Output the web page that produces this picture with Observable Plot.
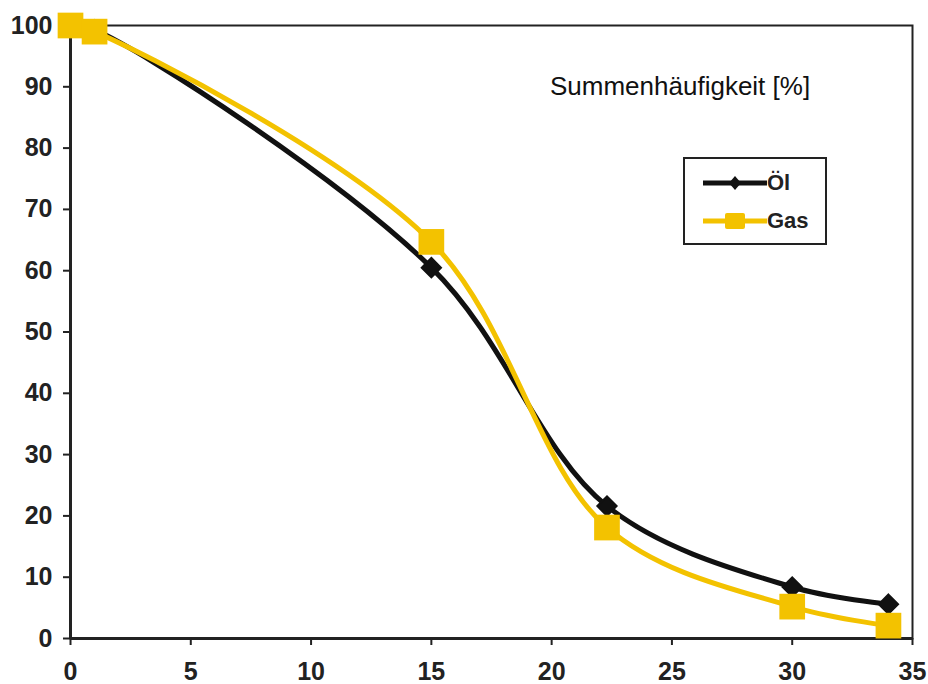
<!DOCTYPE html>
<html><head><meta charset="utf-8">
<script src="https://cdn.jsdelivr.net/npm/d3@7"></script>
<script src="https://cdn.jsdelivr.net/npm/@observablehq/plot@0.6"></script>
<style>
body{margin:0;background:#fff;}
#wrap{position:relative;width:928px;height:684px;font-family:"Liberation Sans",Arial,sans-serif;}
#title{position:absolute;left:550px;top:71px;font-size:26px;color:#111;white-space:nowrap;}
#legend{position:absolute;left:683px;top:157px;width:140px;height:84px;border:2px solid #222;background:#fff;}
#legend .row{position:absolute;left:16px;display:flex;align-items:center;font-weight:bold;font-size:22px;color:#222;}
</style>
</head><body>
<div id="wrap"></div>
<script>
const xs = [0, 1, 15, 22.3, 30, 34];
const oel = [100, 99.3, 60.5, 21.6, 8.4, 5.6];
const gas = [100, 99.0, 64.7, 18.1, 5.2, 2.1];
const seriesNames = ["Öl", "Gas"];
const xTicks = [0, 5, 10, 15, 20, 25, 30, 35];
const yTicks = [0, 10, 20, 30, 40, 50, 60, 70, 80, 90, 100];
const titleText = "Summenhäufigkeit [%]";

const oelData = xs.map((x, i) => ({x, y: oel[i]}));
const gasData = xs.map((x, i) => ({x, y: gas[i]}));
const BLACK = "#111", YELLOW = "#F3C200";

const chart = Plot.plot({
  width: 928, height: 684,
  marginLeft: 70, marginRight: 16, marginTop: 25, marginBottom: 46,
  style: {fontFamily: "Liberation Sans, Arial, sans-serif", fontWeight: "bold", fontSize: "25px", color: "#222", background: "#fff", overflow: "visible"},
  x: {domain: [0, 35], label: null},
  y: {domain: [0, 100], label: null},
  marks: [
    Plot.frame({stroke: "#222", strokeWidth: 2}),
    Plot.ruleY([0], {stroke: "#222", strokeWidth: 3}),
    Plot.ruleX([0], {stroke: "#222", strokeWidth: 3}),
    Plot.axisX({ticks: xTicks, tickSize: 7, strokeWidth: 2, tickPadding: 17, fontSize: 25, fontWeight: "bold", label: null}),
    Plot.axisY({ticks: yTicks, tickSize: 7, strokeWidth: 2, tickPadding: 11, fontSize: 25, fontWeight: "bold", label: null}),
    Plot.line(oelData, {x: "x", y: "y", stroke: BLACK, strokeWidth: 5, curve: "catmull-rom"}),
    Plot.dot(oelData, {x: "x", y: "y", symbol: "diamond2", r: 9, fill: BLACK, stroke: BLACK}),
    Plot.line(gasData, {x: "x", y: "y", stroke: YELLOW, strokeWidth: 5, curve: "catmull-rom"}),
    Plot.dot(gasData, {x: "x", y: "y", symbol: "square", r: 14.5, fill: YELLOW, stroke: "none"})
  ]
});
const wrap = document.getElementById("wrap");
wrap.appendChild(chart);

const t = document.createElement("div");
t.id = "title"; t.textContent = titleText; wrap.appendChild(t);

const lg = document.createElement("div");
lg.id = "legend";
lg.innerHTML = `
<div class="row" style="top:11px"><svg width="66" height="20"><line x1="2" y1="10" x2="66" y2="10" stroke="${BLACK}" stroke-width="5"/><path d="M34,3 L40,10 L34,17 L28,10 Z" fill="${BLACK}"/></svg><span>${seriesNames[0]}</span></div>
<div class="row" style="top:49px"><svg width="66" height="22"><line x1="2" y1="11" x2="66" y2="11" stroke="${YELLOW}" stroke-width="5"/><rect x="24" y="3" width="20" height="16" rx="2" fill="${YELLOW}"/></svg><span>${seriesNames[1]}</span></div>`;
wrap.appendChild(lg);
</script>
</body></html>
